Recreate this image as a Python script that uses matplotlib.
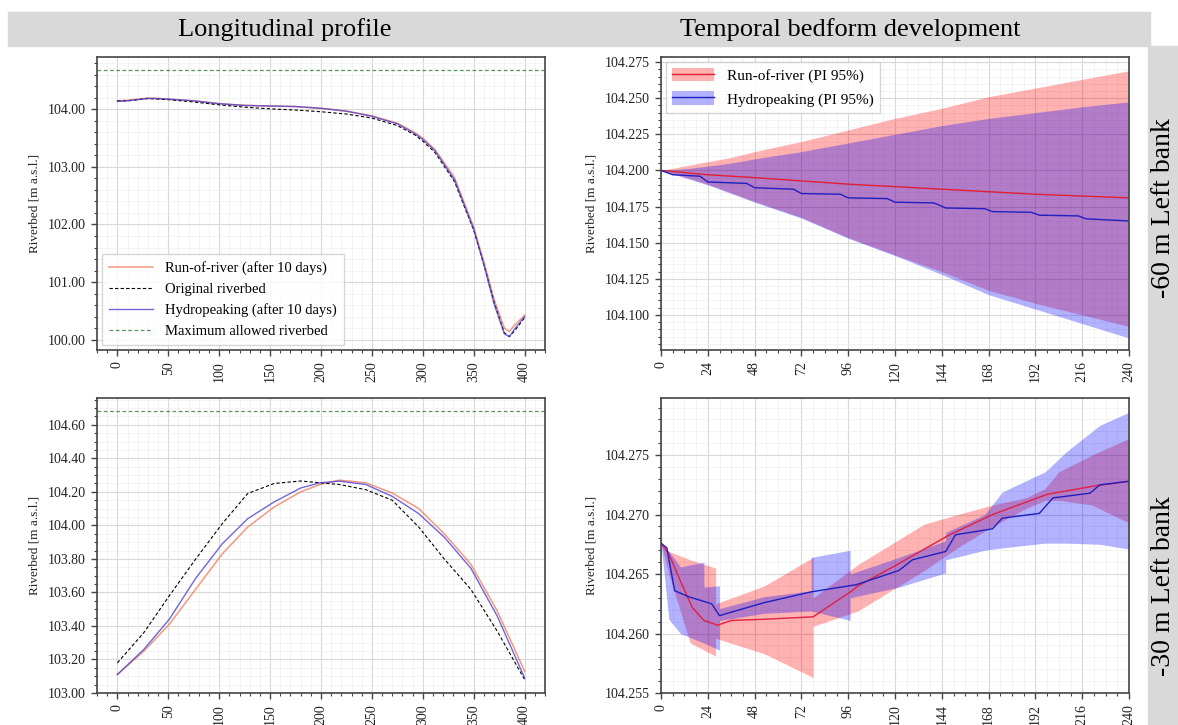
import matplotlib
matplotlib.use("Agg")
import matplotlib.pyplot as plt
from matplotlib.patches import Rectangle, Patch
from matplotlib.lines import Line2D
from matplotlib.ticker import AutoMinorLocator, MultipleLocator, FormatStrFormatter

plt.rcParams["font.family"] = ["Liberation Serif", "DejaVu Serif"]

# ---- longitudinal profile, -60 m left bank ----
x_top = [0, 10, 20, 30, 40, 50, 75, 100, 125, 150, 175, 200, 225, 250, 275,
         292, 300, 312, 331, 350, 360, 370, 380, 385, 390, 400]
orig_top = [104.15, 104.15, 104.17, 104.19, 104.18, 104.17, 104.13, 104.08, 104.04, 104.01,
            103.99, 103.96, 103.92, 103.85, 103.72, 103.56, 103.45, 103.25, 102.75, 101.90,
            101.30, 100.65, 100.12, 100.05, 100.15, 100.38]
ror_top = [104.15, 104.16, 104.18, 104.20, 104.19, 104.18, 104.15, 104.10, 104.07, 104.06,
           104.05, 104.02, 103.97, 103.89, 103.76, 103.60, 103.50, 103.30, 102.82, 101.95,
           101.35, 100.70, 100.20, 100.14, 100.25, 100.42]
hyd_top = [104.14, 104.15, 104.17, 104.19, 104.19, 104.18, 104.15, 104.10, 104.07, 104.06,
           104.05, 104.02, 103.97, 103.88, 103.75, 103.58, 103.48, 103.28, 102.78, 101.92,
           101.30, 100.62, 100.10, 100.05, 100.18, 100.40]

# ---- longitudinal profile, -30 m left bank ----
x_bot = [0, 26, 51, 77, 103, 128, 154, 180, 199, 218, 244, 270, 296, 321, 347, 373, 400]
orig_bot = [103.18, 103.36, 103.58, 103.80, 104.01, 104.19, 104.25, 104.265, 104.254, 104.244,
            104.213, 104.15, 103.99, 103.80, 103.62, 103.37, 103.08]
ror_bot = [103.11, 103.25, 103.41, 103.62, 103.83, 103.99, 104.11, 104.20, 104.244, 104.27,
           104.254, 104.193, 104.10, 103.95, 103.77, 103.49, 103.13]
hyd_bot = [103.11, 103.26, 103.44, 103.685, 103.89, 104.04, 104.14, 104.223, 104.254, 104.264,
           104.244, 104.173, 104.07, 103.93, 103.746, 103.46, 103.09]

max_allowed = 104.68

# ---- temporal development, -60 m left bank ----
t_band60 = [0, 12, 24, 36, 48, 72, 96, 120, 144, 168, 192, 216, 240]
ror_hi60 = [104.200, 104.203, 104.206, 104.209, 104.213, 104.220, 104.228, 104.236,
            104.243, 104.251, 104.257, 104.263, 104.269]
ror_lo60 = [104.200, 104.1955, 104.1905, 104.1845, 104.1785, 104.1675, 104.1535, 104.1415,
            104.130, 104.117, 104.108, 104.100, 104.092]
hyd_hi60 = [104.200, 104.201, 104.203, 104.205, 104.208, 104.213, 104.219, 104.225,
            104.231, 104.236, 104.240, 104.244, 104.2475]
hyd_lo60 = [104.200, 104.195, 104.190, 104.184, 104.178, 104.167, 104.153, 104.141,
            104.128, 104.114, 104.104, 104.094, 104.084]
t_ror60 = [0, 24, 48, 96, 144, 192, 240]
ror_mean60 = [104.200, 104.197, 104.195, 104.1905, 104.187, 104.1835, 104.181]
t_hyd60 = [0, 6, 20, 24, 44, 48, 68, 72, 92, 96, 116, 120, 140, 146, 166, 170,
           190, 194, 214, 218, 240]
hyd_mean60 = [104.200, 104.197, 104.196, 104.192, 104.191, 104.188, 104.187, 104.184,
              104.1835, 104.181, 104.1805, 104.178, 104.1775, 104.174, 104.1735, 104.1715,
              104.171, 104.169, 104.1685, 104.1665, 104.165]

# ---- temporal development, -30 m left bank ----
t_rband30 = [0, 4, 15, 28, 28, 53, 78, 78, 101, 135, 152, 170, 187, 197, 204, 221, 240]
ror_hi30 = [104.2676, 104.2669, 104.2662, 104.2655, 104.2625, 104.2640, 104.2664, 104.2630,
            104.2658, 104.2692, 104.2700, 104.2708, 104.2714, 104.2722, 104.2736, 104.2750,
            104.2764]
ror_lo30 = [104.2676, 104.2650, 104.2592, 104.2581, 104.2596, 104.2583, 104.2563, 104.2606,
            104.2619, 104.2653, 104.2672, 104.2690, 104.2705, 104.2712, 104.2712, 104.2708,
            104.2693]
t_hband30 = [0, 4, 10, 22, 22, 30, 30, 53, 77, 77, 97, 97, 122, 146, 146, 166, 175,
             197, 208, 225, 240]
hyd_hi30 = [104.2676, 104.2669, 104.2656, 104.2660, 104.2639, 104.2640, 104.2621, 104.2631,
            104.2636, 104.2664, 104.2670, 104.2650, 104.2664, 104.2678, 104.2685, 104.2700,
            104.2719, 104.2736, 104.2753, 104.2775, 104.2786]
hyd_lo30 = [104.2676, 104.2612, 104.2600, 104.2592, 104.2592, 104.2586, 104.2611, 104.2617,
            104.2619, 104.2619, 104.2611, 104.2630, 104.2639, 104.2651, 104.2662, 104.2670,
            104.2672, 104.2676, 104.2676, 104.2675, 104.2671]
t_ror30 = [0, 4, 10, 16, 22, 29, 36, 53, 78, 98, 101, 119, 148, 170, 198, 222, 240]
ror_mean30 = [104.2676, 104.2667, 104.2644, 104.2622, 104.2611, 104.2607, 104.2611, 104.2612,
              104.2614, 104.2636, 104.2640, 104.2656, 104.2683, 104.2700, 104.2717, 104.2724,
              104.2728]
t_hyd30 = [0, 3, 7, 14, 26, 30, 34, 53, 77, 100, 122, 129, 146, 151, 170, 175, 194, 201,
           220, 225, 240]
hyd_mean30 = [104.2676, 104.2672, 104.2636, 104.2631, 104.2625, 104.2615, 104.2617, 104.2626,
              104.2635, 104.2641, 104.2653, 104.2662, 104.2669, 104.2683, 104.2688, 104.2697,
              104.2701, 104.2714, 104.2718, 104.2725, 104.2728]

hour_ticks = list(range(0, 241, 24))

fig = plt.figure(figsize=(11.78, 7.25), dpi=100)

# grey header row and side column
fig.patches.append(Rectangle((8 / 1178, 1 - 46 / 725), 1142 / 1178, 34 / 725,
                             transform=fig.transFigure, color="#d9d9d9", zorder=0))
fig.patches.append(Rectangle((1148 / 1178, 0), 30 / 1178, 1 - 46 / 725,
                             transform=fig.transFigure, color="#d9d9d9", zorder=0))
fig.text(285 / 1178, 1 - 30 / 725, "Longitudinal profile", ha="center", va="center",
         fontsize=19)
fig.text(850 / 1178, 1 - 30 / 725, "Temporal bedform development", ha="center", va="center",
         fontsize=19)
fig.text(1163 / 1178, 1 - 208 / 725, "-60 m Left bank", rotation=90, ha="center",
         va="center", fontsize=20)
fig.text(1163 / 1178, 1 - 586 / 725, "-30 m Left bank", rotation=90, ha="center",
         va="center", fontsize=20)

ax_tl = fig.add_axes([97 / 1178, 1 - 350 / 725, 448 / 1178, 293 / 725])
ax_tr = fig.add_axes([661 / 1178, 1 - 350 / 725, 468 / 1178, 293 / 725])
ax_bl = fig.add_axes([97 / 1178, 1 - 693 / 725, 448 / 1178, 295 / 725])
ax_br = fig.add_axes([661 / 1178, 1 - 693 / 725, 468 / 1178, 295 / 725])


def style_axes(ax):
    ax.minorticks_on()
    ax.grid(which="major", color="#d8d8d8", linewidth=0.8)
    ax.grid(which="minor", color="#eeeeee", linewidth=0.5)
    ax.set_axisbelow(True)
    for sp in ax.spines.values():
        sp.set_color("#444444")
        sp.set_linewidth(1.2)
    ax.tick_params(which="major", labelsize=10, length=4.5, width=1.0, color="#444444",
                   labelcolor="#222222")
    ax.tick_params(which="minor", length=2.2, width=0.8, color="#444444")
    ax.tick_params(axis="x", labelrotation=90)
    ax.set_ylabel("Riverbed [m a.s.l.]", fontsize=9.5, color="#222222", labelpad=5)


ror_col = "#f08060"
hyd_col = "#5040d0"

for ax, x, orig, ror, hyd in [(ax_tl, x_top, orig_top, ror_top, hyd_top),
                              (ax_bl, x_bot, orig_bot, ror_bot, hyd_bot)]:
    ax.plot(x, ror, color=ror_col, lw=1.1, alpha=0.8, label="Run-of-river (after 10 days)")
    ax.plot(x, orig, color="black", ls="--", lw=0.8, dashes=(3, 2), label="Original riverbed")
    ax.plot(x, hyd, color=hyd_col, lw=1.0, alpha=0.8, label="Hydropeaking (after 10 days)")
    ax.axhline(max_allowed, color="#2e7d32", ls="--", lw=0.9, dashes=(3, 2), alpha=0.8,
               label="Maximum allowed riverbed")
    ax.xaxis.set_major_locator(MultipleLocator(50))
    ax.xaxis.set_minor_locator(AutoMinorLocator(5))
    ax.yaxis.set_major_formatter(FormatStrFormatter("%.2f"))
    style_axes(ax)

ax_tl.yaxis.set_major_locator(MultipleLocator(1.0))
ax_tl.yaxis.set_minor_locator(AutoMinorLocator(5))
ax_bl.yaxis.set_major_locator(MultipleLocator(0.2))
ax_bl.yaxis.set_minor_locator(AutoMinorLocator(4))
ax_tl.legend(loc="lower left", fontsize=10.5, frameon=True, edgecolor="#cccccc",
             fancybox=False, handlelength=3, borderpad=0.5, labelspacing=0.5,
             borderaxespad=0.35)

# temporal plots with 95% prediction bands
ax_tr.fill_between(t_band60, ror_lo60, ror_hi60, color="red", alpha=0.3, lw=0)
ax_tr.fill_between(t_band60, hyd_lo60, hyd_hi60, color="blue", alpha=0.3, lw=0)
ax_tr.plot(t_ror60, ror_mean60, color="#e02030", lw=1.0)
ax_tr.plot(t_hyd60, hyd_mean60, color="#2020c0", lw=1.0)
ax_tr.set_ylim(104.0757, 104.2785)
ax_tr.yaxis.set_major_locator(MultipleLocator(0.025))
ax_tr.yaxis.set_major_formatter(FormatStrFormatter("%.3f"))

ax_br.fill_between(t_rband30, ror_lo30, ror_hi30, color="red", alpha=0.3, lw=0)
ax_br.fill_between(t_hband30, hyd_lo30, hyd_hi30, color="blue", alpha=0.3, lw=0)
ax_br.plot(t_ror30, ror_mean30, color="#e02040", lw=1.0)
ax_br.plot(t_hyd30, hyd_mean30, color="#2020c0", lw=1.0)
ax_br.set_ylim(104.255, 104.2798)
ax_br.yaxis.set_major_locator(MultipleLocator(0.005))
ax_br.yaxis.set_major_formatter(FormatStrFormatter("%.3f"))

for ax in (ax_tr, ax_br):
    ax.set_xlim(0, 240)
    ax.set_xticks(hour_ticks)
    ax.xaxis.set_minor_locator(AutoMinorLocator(4))
    style_axes(ax)

handles = [(Patch(color="red", alpha=0.3, lw=0), Line2D([], [], color="#e02030", lw=1.0)),
           (Patch(color="blue", alpha=0.3, lw=0), Line2D([], [], color="#2020c0", lw=1.0))]
ax_tr.legend(handles, ["Run-of-river (PI 95%)", "Hydropeaking (PI 95%)"], loc="upper left",
             fontsize=11, frameon=True, edgecolor="#cccccc", fancybox=False,
             handlelength=2.8, handleheight=1.0, labelspacing=0.55, borderaxespad=0.3)

fig.savefig("out.png", dpi=100)
